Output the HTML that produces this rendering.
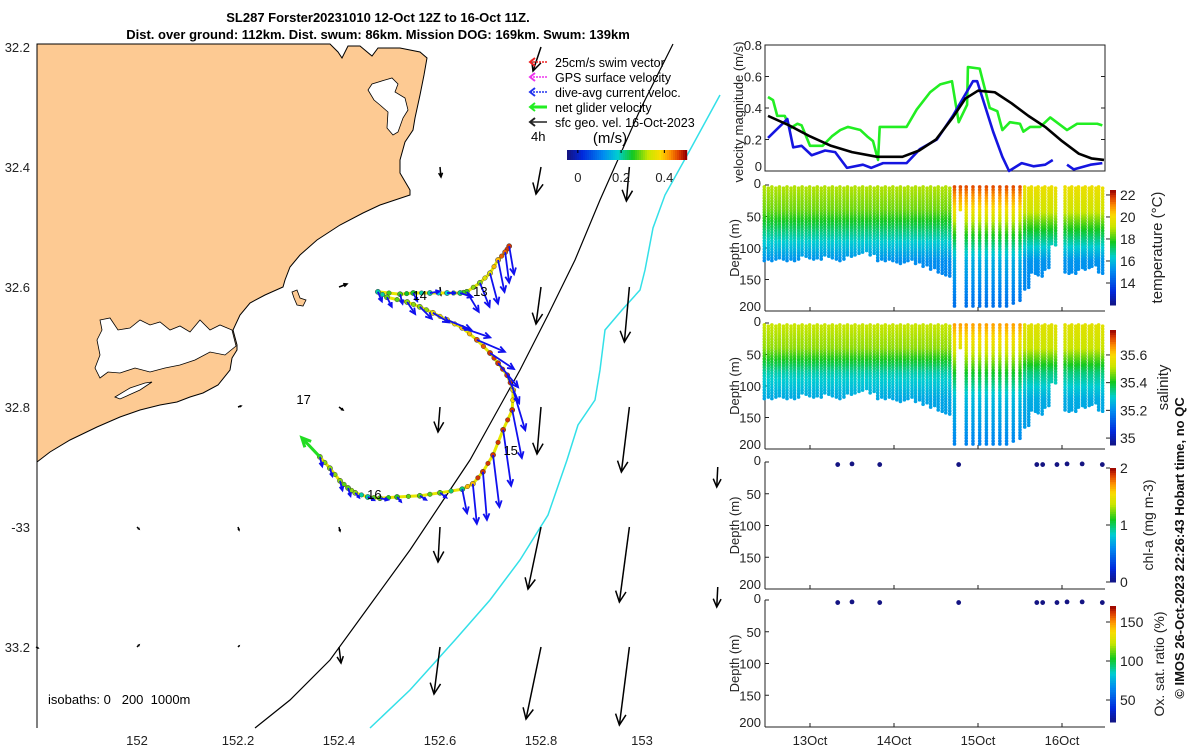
<!DOCTYPE html>
<html><head><meta charset="utf-8"><style>
html,body{margin:0;padding:0;background:#fff;}
svg{display:block;font-family:"Liberation Sans",sans-serif;}
</style></head><body>
<svg id="fig" width="1200" height="750" viewBox="0 0 1200 750" xmlns="http://www.w3.org/2000/svg">
<text x="378" y="22" text-anchor="middle" font-size="13" font-weight="bold">SL287 Forster20231010 12-Oct 12Z to 16-Oct 11Z.</text>
<text x="378" y="39" text-anchor="middle" font-size="13" font-weight="bold">Dist. over ground: 112km. Dist. swum: 86km. Mission DOG: 169km. Swum: 139km</text>
<g id="map">
<path fill="#fdca93" stroke="#000" stroke-width="1" d="M37,44 L330,44 L338,52 L342,58 L348,46 L360,46 L372,56 L378,48 L400,48 L420,52 L427,58 L424,75 L420,95 L415,118 L413,130 L405,142 L400,160 L400,173 L410,190 L410,195 L395,200 L380,205 L363,213 L340,225 L317,240 L300,255 L290,267 L285,280 L283,287 L265,295 L250,303 L240,315 L233,330 L237,345 L237,350 L232,358 L230,370 L218,385 L203,393 L190,397 L177,402 L160,405 L140,410 L120,417 L97,427 L70,440 L50,452 L37,462 Z"/>
<path fill="#fff" stroke="#000" stroke-width="0.8" d="M385,80 L392,78 L398,84 L395,92 L405,98 L408,110 L403,118 L398,132 L393,135 L387,128 L388,112 L380,105 L374,100 L368,90 L372,84 Z"/>
<path fill="#fff" stroke="#000" stroke-width="0.8" d="M100,320 L110,318 L118,330 L130,328 L140,320 L150,325 L160,322 L170,330 L180,326 L190,332 L200,320 L210,330 L220,325 L232,330 L236,346 L225,355 L210,352 L195,360 L180,365 L165,368 L150,372 L135,368 L120,373 L108,372 L100,378 L95,368 L100,355 L97,340 L102,330 Z"/>
<path fill="#fff" stroke="#000" stroke-width="0.8" d="M115,397 L130,388 L145,383 L152,382 L140,390 L120,399 Z"/>
<path fill="#fdca93" stroke="#000" stroke-width="0.8" d="M292,292 L297,290 L300,298 L306,300 L303,306 L297,305 L294,298 Z"/>
<line x1="37" y1="44" x2="37" y2="728" stroke="#000" stroke-width="1"/>
<polyline fill="none" stroke="#000" stroke-width="1.2" points="673,44 640,110 600,200 575,260 548,315 520,370 495,415 470,460 440,505 410,550 370,605 330,660 290,700 255,728"/>
<polyline fill="none" stroke="#33e0e8" stroke-width="1.5" points="720,95 690,150 665,195 653,228 645,270 640,290 622,310 605,330 600,370 595,400 578,425 567,460 548,515 520,560 490,600 455,640 410,690 370,728"/>
<text x="48" y="704" font-size="13" xml:space="preserve">isobaths: 0   200  1000m</text>
</g>
<g id="dyn"></g>
</svg>
<script>
// ---------------- data ----------------
const geoLon=[152.6,152.8,152.975,152.8,152.975,152.4,152.6,152.2,152.4,152.6,152.8,152.975,153.15,152.0,152.2,152.4,152.6,152.8,152.975,153.15,151.8,152.0,152.2,152.4,152.6,152.8,152.975,152.8];
const geoLat=[-32.4,-32.4,-32.4,-32.6,-32.6,-32.6,-32.6,-32.8,-32.8,-32.8,-32.8,-32.8,-32.9,-33.0,-33.0,-33.0,-33.0,-33.0,-33.0,-33.1,-33.2,-33.2,-33.2,-33.2,-33.2,-33.2,-33.2,-32.2];
const geoU=[0.01,-0.05,-0.03,-0.05,-0.05,0.08,0.01,0.03,0.04,-0.02,-0.04,-0.08,-0.01,0.02,0.01,0.01,-0.02,-0.13,-0.1,-0.01,0.02,0.02,0.01,0.02,-0.06,-0.15,-0.1,-0.08];
const geoV=[-0.1,-0.27,-0.34,-0.37,-0.55,0.03,-0.08,0.01,-0.03,-0.25,-0.47,-0.65,-0.2,-0.02,-0.03,-0.04,-0.35,-0.62,-0.75,-0.2,-0.01,0.02,0.01,-0.16,-0.47,-0.72,-0.78,-0.24];
const trackLon=[152.737,152.729,152.715,152.699,152.679,152.653,152.640,152.614,152.580,152.547,152.521,152.477,152.495,152.535,152.560,152.586,152.614,152.644,152.673,152.699,152.715,152.733,152.745,152.743,152.725,152.705,152.685,152.665,152.644,152.600,152.560,152.515,152.481,152.457,152.432,152.418,152.402,152.382,152.362];
const trackLat=[-32.532,-32.542,-32.555,-32.577,-32.593,-32.608,-32.610,-32.610,-32.610,-32.610,-32.612,-32.608,-32.617,-32.625,-32.633,-32.643,-32.655,-32.668,-32.688,-32.710,-32.727,-32.747,-32.772,-32.805,-32.838,-32.880,-32.908,-32.928,-32.937,-32.943,-32.948,-32.950,-32.952,-32.950,-32.943,-32.935,-32.923,-32.902,-32.883];
const trackVal=[0.47,0.45,0.40,0.35,0.30,0.27,0.22,0.18,0.20,0.25,0.27,0.20,0.28,0.30,0.30,0.36,0.38,0.40,0.45,0.47,0.47,0.47,0.38,0.47,0.47,0.47,0.47,0.40,0.22,0.28,0.28,0.26,0.28,0.20,0.30,0.28,0.30,0.30,0.30];
const curU=[0.06,0.05,0.08,0.1,0.12,0.15,0.15,0.1,0.12,0.05,0.03,0.05,0.06,0.1,0.15,0.2,0.3,0.35,0.35,0.3,0.25,0.15,0.15,0.12,0.1,0.08,0.05,0.05,0.06,0.08,0.08,0.05,0.1,0.08,0.05,0.03,0.03,0.03,0.03];
const curV=[-0.35,-0.38,-0.4,-0.38,-0.3,-0.25,-0.05,0,0.02,-0.1,-0.12,-0.12,-0.12,-0.15,-0.15,-0.12,-0.12,-0.12,-0.15,-0.2,-0.3,-0.35,-0.5,-0.6,-0.7,-0.65,-0.6,-0.5,-0.3,-0.06,-0.05,-0.06,-0.02,-0.04,-0.06,-0.1,-0.12,-0.1,-0.12];
const dayLabels=["13","14","15","16","17"];
const dayLabelLon=[152.68,152.56,152.74,152.47,152.33];
const dayLabelLat=[-32.615,-32.622,-32.88,-32.953,-32.795];
const lonTicks=[152,152.2,152.4,152.6,152.8,153];
const lonTickLabels=["152","152.2","152.4","152.6","152.8","153"];
const latTicks=[-32.2,-32.4,-32.6,-32.8,-33.0,-33.2];
const latTickLabels=["32.2","32.4","32.6","32.8","-33","33.2"];
// velocity panel
const greenT=[12.5,12.56,12.61,12.7,12.76,12.85,12.9,13.0,13.15,13.26,13.36,13.45,13.6,13.68,13.75,13.81,13.83,14.15,14.27,14.43,14.55,14.69,14.77,14.87,14.88,15.02,15.14,15.23,15.29,15.38,15.5,15.54,15.62,15.74,15.86,16.06,16.18,16.42,16.48];
const greenV=[0.47,0.45,0.35,0.35,0.27,0.30,0.29,0.16,0.16,0.22,0.26,0.28,0.26,0.22,0.19,0.07,0.28,0.28,0.39,0.50,0.55,0.57,0.31,0.42,0.66,0.65,0.40,0.38,0.26,0.31,0.30,0.25,0.28,0.28,0.34,0.26,0.30,0.30,0.29];
const blueT1=[12.5,12.73,12.8,12.9,13.02,13.18,13.3,13.44,13.63,13.73,13.87,14.15,14.31,14.51,14.7,14.94,14.99,15.18,15.29,15.37,15.52,15.66,15.8,15.89];
const blueV1=[0.21,0.33,0.15,0.16,0.10,0.13,0.12,0.02,0.04,0.02,0.05,0.05,0.14,0.20,0.35,0.57,0.57,0.25,0.09,0.0,0.05,0.03,0.04,0.07];
const blueT2=[16.06,16.14,16.34,16.48];
const blueV2=[0.04,0.01,0.04,0.05];
const blackT=[12.5,12.75,13.0,13.25,13.5,13.8,14.1,14.3,14.5,14.7,14.85,15.0,15.2,15.4,15.6,15.8,16.0,16.2,16.35,16.5];
const blackV=[0.35,0.29,0.22,0.16,0.12,0.09,0.09,0.13,0.20,0.34,0.46,0.51,0.50,0.43,0.35,0.28,0.19,0.11,0.08,0.07];
const velTicks=[0,0.2,0.4,0.6,0.8];
const velTickLabels=["0","0.2","0.4","0.6","0.8"];
// profiles
const profTime=[12.48,12.57,12.66,12.75,12.84,12.93,13.02,13.11,13.2,13.29,13.38,13.47,13.56,13.65,13.74,13.83,13.92,14.01,14.1,14.19,14.28,14.37,14.46,14.55,14.64,14.72,14.79,14.86,14.94,15.02,15.10,15.18,15.26,15.34,15.42,15.50,15.58,15.66,15.74,15.82,15.90,16.06,16.14,16.22,16.30,16.38,16.46];
const profDepth=[120,120,118,120,120,115,118,118,115,118,120,115,112,108,112,120,120,122,125,120,125,130,135,140,145,195,42,195,195,195,195,195,195,195,190,185,165,140,145,135,95,140,140,135,135,130,140];
const profRegime=[0,0,0,0,0,0,0,0,0,0,0,0,0,0,0,0,0,0,0,0,0,0,0,0,0,1,1,1,1,1,1,1,1,1,1,1,2,2,2,2,2,2,2,2,2,2,2];
const knotDepth=[0,40,80,120,200];
const tempRegimeA=[19.0,18.4,16.8,15.2,14.5];
const tempRegimeB=[21.8,20.0,17.8,15.8,14.5];
const tempRegimeC=[19.9,19.3,17.3,15.3,14.8];
const salRegimeA=[35.52,35.48,35.32,35.24,35.2];
const salRegimeB=[35.66,35.55,35.40,35.27,35.18];
const salRegimeC=[35.56,35.52,35.35,35.25,35.2];
const chlTime=[13.33,13.5,13.83,14.77,15.7,15.77,15.94,16.06,16.24,16.48];
const chlDepth=[4,3,4,4,4,4,4,3,3,4];
const chlVal=[0,0,0,0,0,0,0,0,0,0];
const oxTime=[13.33,13.5,13.83,14.77,15.7,15.77,15.94,16.06,16.24,16.48];
const oxDepth=[4,3,4,4,4,4,4,3,3,4];
const oxVal=[22,22,22,22,22,22,22,22,22,22];
const depthTicks=[0,50,100,150,200];
const dayTicks=[13,14,15,16];
const dayTickLabels=["13Oct","14Oct","15Oct","16Oct"];

// ---------------- helpers ----------------
const NS="http://www.w3.org/2000/svg";
const root=document.getElementById('dyn');
function mk(tag,attrs,parent){const e=document.createElementNS(NS,tag);for(const k in attrs)e.setAttribute(k,attrs[k]);(parent||root).appendChild(e);return e;}
const stops=[[0,[20,20,130]],[0.12,[0,40,220]],[0.3,[0,140,240]],[0.42,[0,205,210]],[0.55,[20,200,30]],[0.68,[200,230,0]],[0.78,[250,220,0]],[0.86,[255,150,0]],[0.94,[220,60,0]],[1,[150,0,0]]];
function cmap(f){f=Math.max(0,Math.min(1,f));for(let i=1;i<stops.length;i++){if(f<=stops[i][0]){const a=stops[i-1],b=stops[i];const r=(f-a[0])/(b[0]-a[0]);const c=a[1].map((v,j)=>Math.round(v+(b[1][j]-v)*r));return `rgb(${c[0]},${c[1]},${c[2]})`;}}return 'rgb(150,0,0)';}
function lonX(lon){return 137+(lon-152)*505;}
function latY(lat){return 47+(-lat-32.2)*600;}
function arrow(x1,y1,x2,y2,col,w,head){const g=mk('g',{});mk('line',{x1:x1,y1:y1,x2:x2,y2:y2,stroke:col,'stroke-width':w},g);const a=Math.atan2(y2-y1,x2-x1);const L=Math.hypot(x2-x1,y2-y1);const h=Math.min(head,L*0.45);const p1=[x2-h*Math.cos(a-0.45),y2-h*Math.sin(a-0.45)],p2=[x2-h*Math.cos(a+0.45),y2-h*Math.sin(a+0.45)];mk('polyline',{points:`${p1} ${x2},${y2} ${p2}`,fill:'none',stroke:col,'stroke-width':w},g);return g;}
function txt(x,y,s,size,anchor,parent,extra){const t=mk('text',Object.assign({x:x,y:y,'font-size':size,'text-anchor':anchor||'start',fill:'#222'},extra||{}),parent);t.textContent=s;return t;}

// ---------------- map ----------------
for(let i=0;i<lonTicks.length;i++){
 const t=txt(lonX(lonTicks[i]),745,lonTickLabels[i],13,'middle');
 
 
}
for(let i=0;i<latTicks.length;i++){
 const t=txt(30,latY(latTicks[i])+5,latTickLabels[i],13,'end');
 
 
}
for(let i=0;i<geoLon.length;i++){
 const x=lonX(geoLon[i]),y=latY(geoLat[i]);
 const g=arrow(x,y,x+geoU[i]*100,y-geoV[i]*100,'#000',1.5,12);
 
 
}
const tpts=trackLon.map((l,i)=>lonX(l)+','+latY(trackLat[i])).join(' ');
const trk=mk('polyline',{points:tpts,fill:'none',stroke:'#e8e800','stroke-width':3});


for(let i=0;i<trackLon.length;i++){
 const x=lonX(trackLon[i]),y=latY(trackLat[i]);
 const c=mk('circle',{cx:x,cy:y,r:2.6,fill:cmap((trackVal[i]+0.05)/0.55),stroke:'#333','stroke-width':0.5});
 
 
 if(i<trackLon.length-1){
  const mx=(x+lonX(trackLon[i+1]))/2,my=(y+latY(trackLat[i+1]))/2;
  const c2=mk('circle',{cx:mx,cy:my,r:2.3,fill:cmap((trackVal[i]+0.05)/0.55),stroke:'#333','stroke-width':0.4});
  
  
 }
}
for(let i=0;i<trackLon.length;i++){
 const x=lonX(trackLon[i]),y=latY(trackLat[i]);
 const g=arrow(x,y,x+curU[i]*80,y-curV[i]*80,'#1010ee',1.8,7);
 
 
}
{const n=trackLon.length-1;const x=lonX(trackLon[n]),y=latY(trackLat[n]);
 const g=arrow(x,y,x-18,y-19,'#22dd22',3,10);
 
 }
for(let i=0;i<dayLabels.length;i++){
 const t=txt(lonX(dayLabelLon[i]),latY(dayLabelLat[i]),dayLabels[i],13,'middle',root,{fill:'#000'});
 
 
}
// legend
const legItems=[["25cm/s swim vector","#ee2222"],["GPS surface velocity","#ee33ee"],["dive-avg current veloc.","#2233ee"],["net glider velocity","#22ee22"],["sfc geo. vel. 16-Oct-2023","#222"]];
for(let i=0;i<legItems.length;i++){
 const y=62+i*15;
 const g=mk('g',{});
 
 
 mk('line',{x1:530,y1:y,x2:547,y2:y,stroke:legItems[i][1],'stroke-width':i==3?3:1.5,'stroke-dasharray':i<3?'2,1':''},g);
 mk('polyline',{points:`535,${y-4} 530,${y} 535,${y+4}`,fill:'none',stroke:legItems[i][1],'stroke-width':2},g);
 txt(555,y+5,legItems[i][0],12.5,'start',g,{fill:'#000'});
}
{const t=txt(531,141,'4h',13,'start',root,{fill:'#000'});
 const u=txt(610,143,'(m/s)',15,'middle',root,{fill:'#000'});}
{const g=mk('g',{});
 for(let k=0;k<60;k++){mk('rect',{x:567+k*2,y:150,width:2.2,height:10,fill:cmap(k/59)},g);}
 const ct=[0,0.2,0.4],cl=["0","0.2","0.4"];
 for(let i=0;i<ct.length;i++){const x=567+(ct[i]+0.05)/0.55*119;mk('line',{x1:x,y1:150,x2:x,y2:153,stroke:'#000'},g);txt(x,182,cl[i],13,'middle',g);}
}

// ---------------- right panels ----------------
const PL=765,PR=1105;
function tx(t){return 810+(t-13)*84;}
const P1T=45,P1B=171;
function vy(v){return P1B-v/0.8*(P1B-P1T);}
{const f=mk('rect',{x:PL,y:P1T,width:PR-PL,height:P1B-P1T,fill:'none',stroke:'#222','stroke-width':1});}
for(let i=0;i<velTicks.length;i++){const y=vy(velTicks[i]);mk('line',{x1:PL,y1:y,x2:PL+4,y2:y,stroke:'#222'});mk('line',{x1:PR-4,y1:y,x2:PR,y2:y,stroke:'#222'});
 const t=txt(PL-3,y+(i==0?0:5),velTickLabels[i],13,'end');}
{const t=txt(0,0,'velocity magnitude (m/s)',13,'middle',root,{transform:`translate(743,${(P1T+P1B)/2+4}) rotate(-90)`});}
function vline(T,V,col,name){const l=mk('polyline',{points:T.map((t,i)=>tx(t)+','+vy(V[i])).join(' '),fill:'none',stroke:col,'stroke-width':2.6,'stroke-linejoin':'round'});}
vline(greenT,greenV,'#22ee22','net-glider-speed-line');
vline(blueT1,blueV1,'#1515e0','dive-avg-current-line');
vline(blueT2,blueV2,'#1515e0','dive-avg-current-line-2');
vline(blackT,blackV,'#000','geostrophic-speed-line');

const panels=[{t:185,b:311,name:'temperature'},{t:323,b:449,name:'salinity'},{t:462,b:589,name:'chl'},{t:600,b:727,name:'oxygen'}];
panels.forEach((p,pi)=>{
 const g=mk('g',{});
 mk('line',{x1:PL,y1:p.t,x2:PL,y2:p.b,stroke:'#222'},g);
 mk('line',{x1:PL,y1:p.b,x2:PR,y2:p.b,stroke:'#222'},g);
 depthTicks.forEach(d=>{const y=p.t+d/200*(p.b-p.t);mk('line',{x1:PL,y1:y,x2:PL+4,y2:y,stroke:'#222'},g);txt(PL-4,y+(d==0?3:d==200?0:5),String(d),13,'end',g);});
 dayTicks.forEach(d=>{mk('line',{x1:tx(d),y1:p.b,x2:tx(d),y2:p.b-4,stroke:'#222'},g);});
 const t=txt(0,0,'Depth (m)',13,'middle',root,{transform:`translate(739,${(p.t+p.b)/2}) rotate(-90)`});
 
 
});
for(let i=0;i<dayTicks.length;i++){const t=txt(tx(dayTicks[i]),745,dayTickLabels[i],13,'middle');}

function interp(knots,vals,d){for(let i=1;i<knots.length;i++){if(d<=knots[i]){const r=(d-knots[i-1])/(knots[i]-knots[i-1]);return vals[i-1]+(vals[i]-vals[i-1])*r;}}return vals[vals.length-1];}
const tempR=[tempRegimeA,tempRegimeB,tempRegimeC],salR=[salRegimeA,salRegimeB,salRegimeC];
function drawSection(p,regs,vmin,vmax,name){
 const g=mk('g',{});
 for(let i=0;i<profTime.length;i++){
  const offs=profRegime[i]==1?[0]:[-2,2];
  offs.forEach((o,k)=>{
   const x=tx(profTime[i])+o;
   for(let d=3+k*2;d<=profDepth[i];d+=4.5){
    const v=interp(knotDepth,regs[profRegime[i]],d);
    mk('circle',{cx:x,cy:p.t+d/200*(p.b-p.t),r:1.8,fill:cmap((v-vmin)/(vmax-vmin))},g);
   }
  });
 }
}
drawSection(panels[0],tempR,12.0,22.45,'temperature-section');
drawSection(panels[1],salR,34.95,35.78,'salinity-section');
function dots(p,T,D,V,vmin,vmax,name){for(let i=0;i<T.length;i++){const c=mk('circle',{cx:tx(T[i]),cy:p.t+D[i]/200*(p.b-p.t),r:2.4,fill:cmap((V[i]-vmin)/(vmax-vmin))});}}
dots(panels[2],chlTime,chlDepth,chlVal,0,2,'chl-point');
dots(panels[3],oxTime,oxDepth,oxVal,21.8,170.5,'oxygen-point');

const cbars=[{t:190,b:305,vmin:12.0,vmax:22.45,ticks:[14,16,18,20,22],labels:["14","16","18","20","22"],title:'temperature (°C)',tx:1162,size:15,name:'temperature-colorbar'},
 {t:330,b:445,vmin:34.95,vmax:35.78,ticks:[35,35.2,35.4,35.6],labels:["35","35.2","35.4","35.6"],title:'salinity',tx:1168,size:15,name:'salinity-colorbar'},
 {t:468,b:582,vmin:0,vmax:2,ticks:[0,1,2],labels:["0","1","2"],title:'chl-a (mg m-3)',tx:1153,size:14,name:'chl-colorbar'},
 {t:606,b:722,vmin:21.8,vmax:170.5,ticks:[50,100,150],labels:["50","100","150"],title:'Ox. sat. ratio (%)',tx:1164,size:14,name:'oxygen-colorbar'}];
cbars.forEach(c=>{
 const g=mk('g',{});
 const n=50,h=(c.b-c.t)/n;
 for(let k=0;k<n;k++)mk('rect',{x:1110,y:c.b-(k+1)*h,width:6,height:h+0.5,fill:cmap((k+0.5)/n)},g);
 c.ticks.forEach((v,i)=>{const y=c.b-(v-c.vmin)/(c.vmax-c.vmin)*(c.b-c.t);mk('line',{x1:1106,y1:y,x2:1110,y2:y,stroke:'#222'},g);txt(1120,y+5,c.labels[i],14,'start',g);});
 txt(0,0,c.title,c.size,'middle',g,{transform:`translate(${c.tx},${(c.t+c.b)/2}) rotate(-90)`});
});
{const t=txt(0,0,'© IMOS 26-Oct-2023 22:26:43 Hobart time, no QC',13,'middle',root,{transform:'translate(1184,548) rotate(-90)','font-weight':'bold',fill:'#111'});
 
 }
</script>
</body></html>
